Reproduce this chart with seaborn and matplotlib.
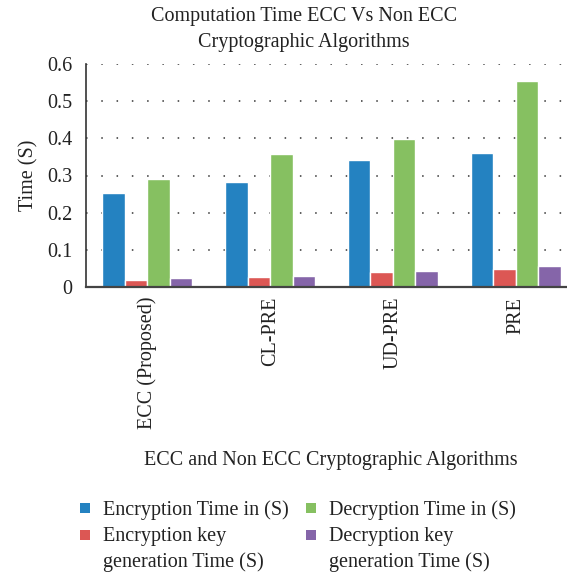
import matplotlib
matplotlib.use("Agg")
import matplotlib.pyplot as plt
import seaborn as sns
import pandas as pd
from matplotlib.patches import Rectangle

categories = ["ECC (Proposed)", "CL-PRE", "UD-PRE", "PRE"]
series_names = ["Encryption Time in (S)", "Encryption key\ngeneration Time (S)",
                "Decryption Time in (S)", "Decryption key\ngeneration Time (S)"]
enc_time = [0.253, 0.282, 0.341, 0.360]
enc_key = [0.019, 0.027, 0.040, 0.049]
dec_time = [0.290, 0.357, 0.398, 0.553]
dec_key = [0.024, 0.030, 0.043, 0.057]
colors = ["#2482C1", "#DC5754", "#86C061", "#8565A9"]
yticks = [0, 0.1, 0.2, 0.3, 0.4, 0.5, 0.6]
ytick_labels = ["0", "0.1", "0.2", "0.3", "0.4", "0.5", "0.6"]

sns.set_style("white")
plt.rcParams["font.family"] = ["Liberation Serif", "DejaVu Serif"]
FS = 14.5
TC = "#222222"
W, H = 567, 576

rows = []
for name, vals in zip(series_names, [enc_time, enc_key, dec_time, dec_key]):
    for c, v in zip(categories, vals):
        rows.append({"Algorithm": c, "Series": name, "Time": v})
df = pd.DataFrame(rows)

fig = plt.figure(figsize=(5.67, 5.76), dpi=100)
ax = fig.add_axes([86/W, 1-287/H, (577-86)/W, (287-64)/H])
sns.barplot(data=df, x="Algorithm", y="Time", hue="Series", hue_order=series_names,
            palette=colors, width=0.735, gap=0, saturation=1, errorbar=None,
            legend=False, ax=ax, order=categories)

ax.set_ylim(0, 0.6)
ax.set_xlim(-0.5, 3.5)
ax.set_yticks(yticks)
ax.set_yticklabels(ytick_labels, fontsize=FS, color=TC)
ax.tick_params(axis="y", direction="out", length=6, width=1, color="#333333", pad=4)
ax.tick_params(axis="x", length=0, pad=7)
ax.set_xticks(range(len(categories)))
ax.set_xticklabels(categories, rotation=90, fontsize=FS, color=TC, va="top")
for y in yticks[1:]:
    ax.axhline(y, color="#333333", linestyle=(0, (1, 9)), linewidth=1.1, zorder=0)
for s in ["top", "right"]:
    ax.spines[s].set_visible(False)
ax.spines["left"].set_color("#333333")
ax.spines["left"].set_linewidth(1.2)
ax.spines["bottom"].set_color("#444444")
ax.spines["bottom"].set_linewidth(1.6)
ax.set_ylabel("Time (S)", fontsize=FS, color=TC, labelpad=6)
ax.set_xlabel("")

fig.text(304/W, 1-17/H, "Computation Time ECC Vs Non ECC",
         ha="center", va="center", fontsize=FS, color=TC)
fig.text(304/W, 1-42/H, "Cryptographic Algorithms",
         ha="center", va="center", fontsize=FS, color=TC)
fig.text(331/W, 1-460/H, "ECC and Non ECC Cryptographic Algorithms",
         ha="center", va="center", fontsize=FS, color=TC)

# manual legend: (square x, text x, first-line center y)
legend_pos = [(80, 103, 508), (80, 103, 535), (306, 329, 508), (306, 329, 535)]
for (sx, tx, cy), name, col in zip(legend_pos, series_names, colors):
    fig.patches.append(Rectangle((sx/W, 1-(cy+5)/H), 10/W, 10/H, facecolor=col,
                                 edgecolor="none", transform=fig.transFigure, figure=fig))
    lines = name.split("\n")
    for i, ln in enumerate(lines):
        fig.text(tx/W, 1-(cy + 2 + 25*i)/H, ln, ha="left", va="center",
                 fontsize=FS, color=TC)

fig.savefig("out.png", dpi=100)
